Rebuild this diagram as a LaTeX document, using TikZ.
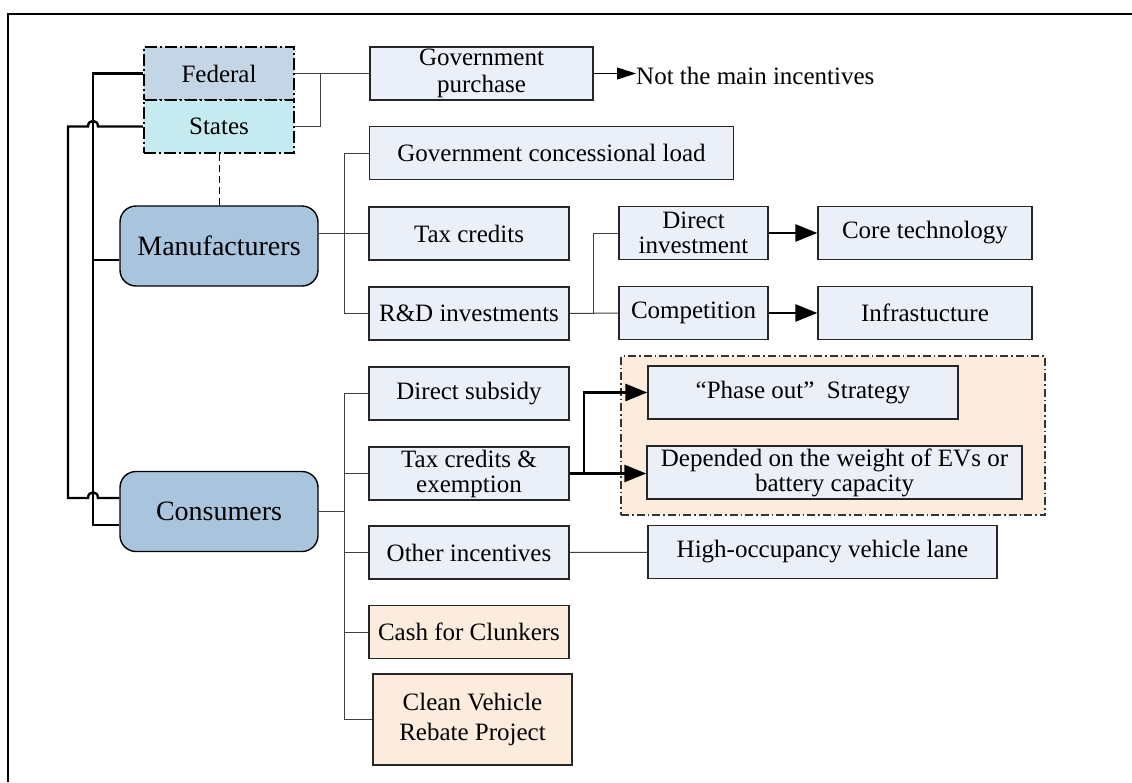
\documentclass[tikz,border=0pt]{standalone}
\usepackage{fontspec}
\setmainfont{Liberation Serif}
\usetikzlibrary{arrows.meta}
\definecolor{boxblue}{RGB}{235,240,248}
\definecolor{boxpeach}{RGB}{252,236,222}
\definecolor{actorblue}{RGB}{169,196,221}
\definecolor{fedblue}{RGB}{196,214,230}
\definecolor{stacyan}{RGB}{197,235,240}
\tikzset{
  box/.style={draw=black!85, line width=1.4pt, fill=boxblue, inner sep=0pt, minimum height=53pt, align=center},
  peach/.style={box, fill=boxpeach},
  actor/.style={draw, line width=1.4pt, fill=actorblue, rounded corners=16pt, minimum width=198pt, minimum height=80pt, font=\fontsize{28}{32}\selectfont},
  level/.style={draw, line width=2.4pt, dash pattern=on 12pt off 3pt on 2pt off 3pt, inner sep=0pt, minimum width=150pt, minimum height=53pt},
  group/.style={draw=black!80, line width=1.4pt, dash pattern=on 8pt off 3pt on 1.5pt off 3pt, fill=boxpeach, inner sep=0pt},
  bus/.style={line width=2.4pt},
  link/.style={line width=1pt, draw=black!75},
  arr/.style={line width=2.8pt, -{Triangle[length=22pt,width=17pt]}},
}

\begin{document}
\begin{tikzpicture}[x=1pt, y=-1pt, font=\fontsize{25}{27}\selectfont]
    \useasboundingbox (0, 0) rectangle (1132, 782);
    \draw[line width=2pt] (8, 782) -- (8, 14) -- (1132, 14);

    \node (fed) [level, fill=fedblue] at (219, 73.5) {Federal};
    \node (sta) [level, fill=stacyan] at (219, 126.5) {States};
    \node (gp) [box, minimum width=223] at (481.5, 73.5) {Government\\purchase};
    \node (nm) [inner sep=0pt, anchor=west] at (636, 76) {Not the main incentives};

    \node (mfr) [actor] at (219, 246) {Manufacturers};
    \node (con) [actor] at (219, 511.5) {Consumers};

    \node (gcl) [box, minimum width=364] at (551.5, 153) {Government concessional load};
    \node (tax) [box, minimum width=200] at (469, 233.5) {Tax credits};
    \node (rd) [box, minimum width=200] at (469, 313.5) {R\&D investments};
    \node (di) [box, minimum width=149, font=\fontsize{25}{25}\selectfont] at (693.5, 233) {Direct\\investment};
    \node (comp) [box, minimum width=149] at (693.5, 313) {Competition};
    \node (core) [box, minimum width=214] at (925, 233) {Core technology};
    \node (infra) [box, minimum width=214] at (925, 313) {Infrastucture};

    \node (grp) [group, minimum width=424, minimum height=159] at (833, 435.5) {};

    \node (ds) [box, minimum width=200] at (469, 393.5) {Direct subsidy};
    \node (tce) [box, minimum width=200, font=\fontsize{25}{25}\selectfont] at (469, 473.5) {Tax credits \&\\exemption};
    \node (oi) [box, minimum width=200] at (469, 552.5) {Other incentives};
    \node (cfc) [peach, minimum width=200] at (469, 632) {Cash for Clunkers};
    \node (cvr) [peach, minimum width=199, minimum height=91, font=\fontsize{25}{30}\selectfont] at (472.5, 719.5) {Clean Vehicle\\Rebate Project};

    \node (pho) [box, minimum width=310] at (803, 392.5) {“Phase out”\enspace Strategy};
    \node (dep) [box, minimum width=375, font=\fontsize{25}{25}\selectfont] at (834.5, 472.5) {Depended on the weight of EVs or\\battery capacity};
    \node (hov) [box, minimum width=349] at (822.5, 552) {High-occupancy vehicle lane};

    \coordinate (fj) at (320, 73.5);
    \coordinate (mj) at (344, 233.5);
    \coordinate (rj) at (593, 313.5);
    \coordinate (cj) at (344, 511.5);
    \coordinate (tj) at (584, 473.5);
    \coordinate (ja) at (93, 525);
    \coordinate (jm) at (93, 260);
    \coordinate (jb) at (68, 498);

    \draw[link] (fed.east) -- (gp.west);
    \draw[link] (sta.east) -| (fj);
    \draw[line width=1pt, -{Triangle[length=19pt,width=12pt]}] (gp.east) -- (gp.east -| nm.west);
    \draw[dashed, line width=1pt, dash pattern=on 7pt off 4pt] (sta.south) -- (mfr.north);

    \draw[link] (tax.west -| mfr.east) -- (tax.west);
    \draw[link] (gcl.west) -| (mj);
    \draw[link] (rd.west) -| (mj);
    \draw[link] (rd.east) -- (comp.west);
    \draw[link] (di.west) -| (rj);
    \draw[arr] (di) -- (core);
    \draw[arr] (comp) -- (infra);

    \draw[link] (con.east) -- (cj);
    \draw[link] (ds.west) -| (cj);
    \draw[link] (tce.west) -| (cj);
    \draw[link] (oi.west) -| (cj);
    \draw[link] (cfc.west) -| (cj);
    \draw[link] (cvr.west) -| (cj);
    \draw[link] (oi) -- (hov);
    \draw[arr] (tce.east) -- (tce.east -| dep.west);
    \draw[arr] (tj) |- (pho.west);

    \draw[bus] (fed.west) -| (ja) -- (ja -| con.west);
    \draw[bus] (jm) -- (jm -| mfr.west);
    \draw[bus] (sta.west) -- (98, 126.5) .. controls (98, 119) and (88, 119) .. (88, 126.5) -- (jb |- sta.west) -- (jb) -- (88, 498) .. controls (88, 490.5) and (98, 490.5) .. (98, 498) -- (jb -| con.west);
\end{tikzpicture}
\end{document}
